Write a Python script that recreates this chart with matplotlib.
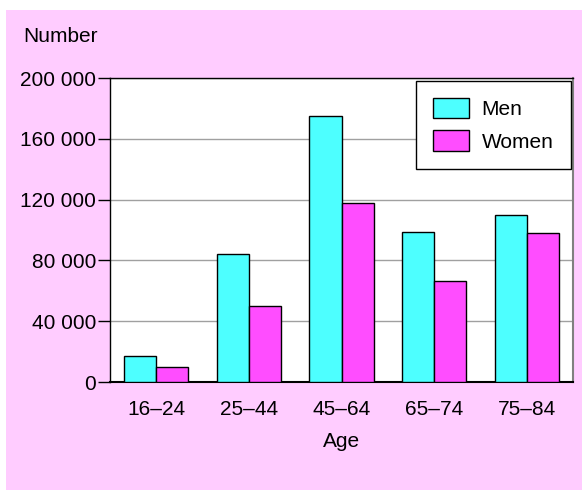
import matplotlib
matplotlib.use("Agg")
import matplotlib.pyplot as plt
from matplotlib.patches import Rectangle
from matplotlib.ticker import FuncFormatter
import numpy as np

plt.rcParams['font.family'] = ['Liberation Sans', 'DejaVu Sans']

categories = ["16–24", "25–44", "45–64", "65–74", "75–84"]
men = [17000, 84000, 175000, 98500, 110000]
women = [10000, 50000, 118000, 66500, 98000]
series_names = ["Men", "Women"]
yticks = [0, 40000, 80000, 120000, 160000, 200000]

FS = 15
W, H = 582, 490
fig = plt.figure(figsize=(W/100, H/100), dpi=100)
fig.patch.set_facecolor("white")
bg = fig.add_axes([0, 0, 1, 1], zorder=-5)
bg.set_axis_off()
bg.set_xlim(0, W)
bg.set_ylim(H, 0)
bg.add_patch(Rectangle((6, 10), 576, 480, facecolor="#ffccff", edgecolor="none"))

ax = fig.add_axes([110/W, 1-382/H, 463/W, 304/H], zorder=1)
ax.set_facecolor("white")
x = np.arange(len(categories))
bw = 0.347
ax.bar(x - bw/2, men, bw, color="#4dffff", edgecolor="black", linewidth=1, label=series_names[0], zorder=3)
ax.bar(x + bw/2, women, bw, color="#ff4dff", edgecolor="black", linewidth=1, label=series_names[1], zorder=3)

ax.set_xlim(-0.5, 4.5)
ax.set_ylim(0, 200000)
ax.set_yticks(yticks)
ax.yaxis.set_major_formatter(FuncFormatter(lambda v, p: f"{int(v):,}".replace(",", " ")))
ax.set_xticks(x)
ax.set_xticklabels(categories)
ax.tick_params(axis='y', length=9, width=1, color="black", labelsize=FS, pad=1)
ax.tick_params(axis='x', length=0, labelsize=FS, pad=13)
ax.grid(axis='y', color="#a0a0a0", linewidth=1, zorder=1)
ax.set_axisbelow(True)
for s in ["left", "top", "bottom"]:
    ax.spines[s].set_color("black")
    ax.spines[s].set_linewidth(1)
ax.spines["bottom"].set_linewidth(1.5)
ax.spines["right"].set_color("#808080")
ax.spines["right"].set_linewidth(1.5)
ax.set_xlabel("Age", fontsize=FS, labelpad=9)

leg = ax.legend(loc="upper right", fontsize=FS, frameon=True, fancybox=False,
                handlelength=1.73, handleheight=1.15, labelspacing=0.55,
                borderpad=0.82, handletextpad=0.58, borderaxespad=0.12)
leg.get_frame().set_edgecolor("black")
leg.get_frame().set_linewidth(1)
leg.get_frame().set_facecolor("white")
leg.get_frame().set_alpha(1)

fig.text(23/W, 1-37/H, "Number", fontsize=FS, ha="left", va="center")

fig.savefig("out.png", dpi=100, facecolor=fig.get_facecolor())
